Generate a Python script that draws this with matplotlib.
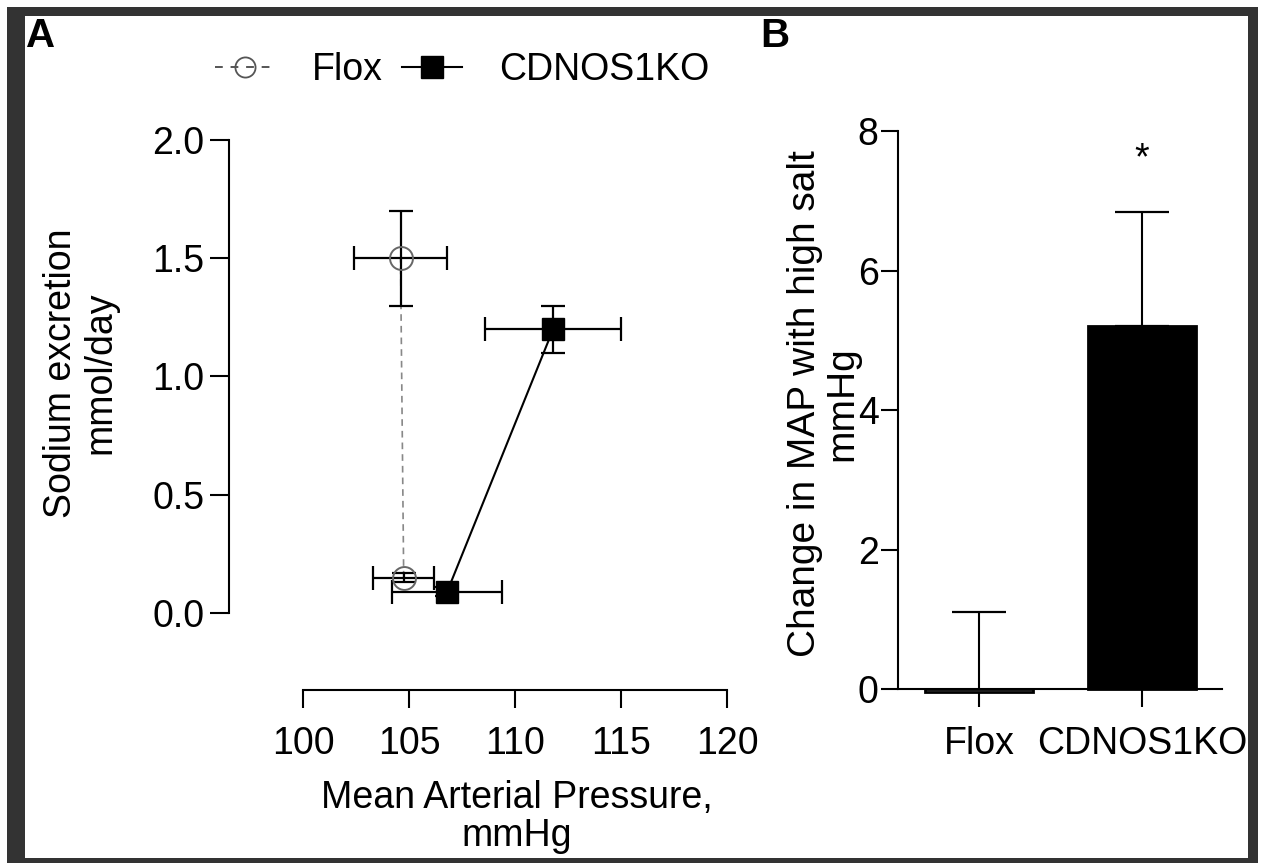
import matplotlib.pyplot as plt
from matplotlib.lines import Line2D
from matplotlib.patches import Rectangle

plt.rcParams["font.family"] = ["Liberation Sans", "DejaVu Sans"]
plt.rcParams["font.size"] = 27

# ==========================
# Data
# ==========================

# Panel A : normal salt -> high salt
flox_map = [104.75, 104.6]
flox_map_err = [1.45, 2.2]
flox_na = [0.15, 1.5]
flox_na_err = [0.02, 0.2]

ko_map = [106.8, 111.8]
ko_map_err = [2.6, 3.2]
ko_na = [0.09, 1.2]
ko_na_err = [0.02, 0.1]

x_ticks_a = [100, 105, 110, 115, 120]
y_ticks_a = [0.0, 0.5, 1.0, 1.5, 2.0]

# Panel B
groups = ["Flox", "CDNOS1KO"]
delta_map = [-0.05, 5.2]
delta_map_err = [1.15, 1.64]
y_ticks_b = [0, 2, 4, 6, 8]

W, H = 1264, 863


def px_box(left, top, right, bottom):
    return [left / W, 1 - bottom / H, (right - left) / W, (bottom - top) / H]


fig = plt.figure(figsize=(W / 100, H / 100), dpi=100)

# outer frame
fig.add_artist(Rectangle((7 / W, 0), (1258 - 7) / W, (H - 7) / H,
                         transform=fig.transFigure, facecolor="#333333",
                         edgecolor="none", zorder=-2))
fig.add_artist(Rectangle((25 / W, (H - 858) / H), (1248 - 25) / W, (858 - 16) / H,
                         transform=fig.transFigure, facecolor="white",
                         edgecolor="none", zorder=-1))

# ==========================
# Panel A
# ==========================
ax = fig.add_axes(px_box(229, 140, 727, 690))
ax.patch.set_alpha(0)

ax.plot(flox_map, flox_na, linestyle=(0, (4, 3)), color="#888888",
        linewidth=1.2, zorder=2)
ax.plot(ko_map, ko_na, linestyle="-", color="black", linewidth=1.5, zorder=2)

ax.errorbar(flox_map, flox_na, xerr=flox_map_err, yerr=flox_na_err,
            fmt="none", ecolor="black", elinewidth=1.6, capsize=8.5,
            capthick=1.6, zorder=3)
ax.errorbar(ko_map, ko_na, xerr=ko_map_err, yerr=ko_na_err,
            fmt="none", ecolor="black", elinewidth=1.6, capsize=8.5,
            capthick=1.6, zorder=3)

ax.plot(flox_map, flox_na, linestyle="none", marker="o", markersize=16.5,
        markerfacecolor="none", markeredgecolor="#666666",
        markeredgewidth=1.4, zorder=4)
ax.plot(ko_map, ko_na, linestyle="none", marker="s", markersize=15.5,
        color="black", zorder=4)

ax.set_xlim(100 - 74 / 21.2, 120)
ax.set_ylim(-77 / 236.5, 2.0)

for side in ["top", "right"]:
    ax.spines[side].set_visible(False)
ax.spines["left"].set_bounds(0, 2)
ax.spines["bottom"].set_bounds(100, 120)
for side in ["left", "bottom"]:
    ax.spines[side].set_linewidth(1.5)

ax.set_xticks(x_ticks_a)
ax.set_yticks(y_ticks_a)
ax.set_yticklabels([f"{v:.1f}" for v in y_ticks_a])
ax.tick_params(axis="x", length=13, width=1.5, pad=13)
ax.tick_params(axis="y", length=13.5, width=1.5, pad=4)

ax.set_xlabel("Mean Arterial Pressure,\nmmHg", linespacing=1.08)
ax.xaxis.set_label_coords(0.578, -0.163)
ax.xaxis.label.set_va("top")

ax.set_ylabel("Sodium excretion\nmmol/day", linespacing=1.13)
ax.yaxis.set_label_coords(-0.221, 0.576)

legend_handles = [
    Line2D([], [], linestyle=(0, (4, 4)), color="#555555", linewidth=1.4,
           marker="o", markersize=14.5, markerfacecolor="none",
           markeredgecolor="#555555", markeredgewidth=1.3),
    Line2D([], [], linestyle="-", color="black", linewidth=1.5,
           marker="s", markersize=15.5),
]
fig.legend(legend_handles, ["Flox", "CDNOS1KO"], loc="center",
           bbox_to_anchor=(462 / W, 1 - 70 / H), ncol=2, frameon=False,
           handlelength=1.6, handletextpad=1.0, columnspacing=0.5)

fig.text(26 / W, 1 - 17 / H, "A", fontsize=29, fontweight="bold",
         ha="left", va="top")

# ==========================
# Panel B
# ==========================
bx = fig.add_axes(px_box(898, 131, 1222, 689))
bx.patch.set_alpha(0)

positions = list(range(len(groups)))
bx.bar(positions, delta_map, width=0.663,
       color=["white", "black"], edgecolor="black", linewidth=2,
       clip_on=False, zorder=2)
bx.errorbar(positions, delta_map,
            yerr=[[0] * len(delta_map), delta_map_err],
            fmt="none", ecolor="black", elinewidth=1.5, capsize=19.5,
            capthick=1.6, zorder=1)

bx.text(1, 7.6, "*", ha="center", va="center", fontsize=27)

bx.set_xlim(-0.497, 1.49)
bx.set_ylim(0, 8)
for side in ["top", "right"]:
    bx.spines[side].set_visible(False)
for side in ["left", "bottom"]:
    bx.spines[side].set_linewidth(1.5)

bx.set_xticks(positions)
bx.set_xticklabels(groups)
bx.set_yticks(y_ticks_b)
bx.tick_params(axis="x", length=13, width=1.5, pad=14)
bx.tick_params(axis="y", length=12, width=1.5, pad=2)

bx.set_ylabel("Change in MAP with high salt\nmmHg", fontsize=28,
              linespacing=1.05)
bx.yaxis.set_label_coords(-0.117, 0.511)

fig.text(760 / W, 1 - 17 / H, "B", fontsize=29, fontweight="bold",
         ha="left", va="top")

fig.savefig("out.png", dpi=100)
